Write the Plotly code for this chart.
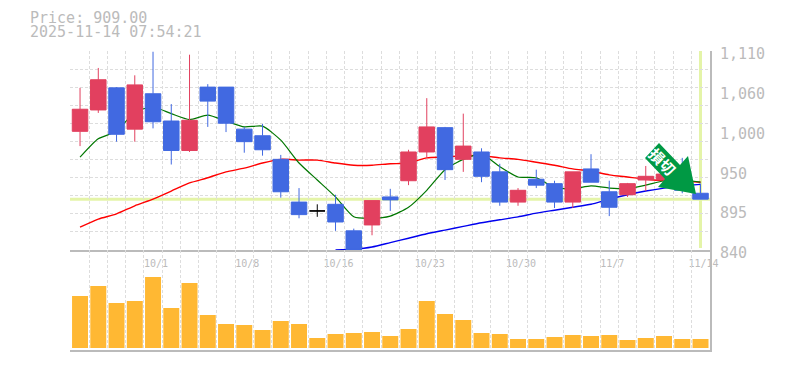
import plotly.graph_objects as go

idx = list(range(35))
opens  = [1001,1030,1060,1004,1052,1015,975,1061,1061,1004,995,963,905,893,902,866,874,912,934,973,1006,963,973,946,905,936,930,905,950,919,915,935,935,949,917]
highs  = [1060,1087,1061,1077,1109,1038,1105,1065,1061,1007,1011,969,924,902,915,869,907,923,976,1046,1007,1025,978,957,924,949,934,946,970,934,931,954,946,965,930]
lows   = [981,1026,987,987,1005,956,973,1007,1000,972,968,911,883,885,866,840,860,893,928,965,935,946,932,900,900,924,897,897,932,886,912,920,932,917,909]
closes = [1031,1071,997,1064,1014,975,1016,1042,1012,987,976,919,888,893,878,840,907,908,973,1007,949,981,940,905,921,928,905,946,932,898,930,940,943,921,909]
ma_green = [966,991,1001,1027,1034,1025,1017,1023,1015,1007,1008,989,958,935,912,885,883,886,898,921,949,963,970,953,939,938,925,923,927,924,923,928,934,935,932]
ma_red = [871,882,889,900,909,920,931,938,946,951,958,963,962,962,958,955,955,957,958,965,966,968,968,965,963,959,955,950,947,942,939,936,934,934,932]
ma_blue = [None]*14 + [840,841,844,850,856,862,867,872,877,881,885,890,894,898,902,909,915,920,924,927,929]
volumes = [156,186,135,141,213,120,195,99,72,69,54,81,72,30,42,45,48,36,57,141,102,84,45,42,27,27,33,39,36,39,24,30,36,27,27]
date_idx = [4,9,14,19,24,29,34]
date_labels = ["10/1","10/8","10/16","10/23","10/30","11/7","11/14"]
price_ticks = [1110,1056,1002,948,894,840]
price_labels = ["1,110","1,060","1,000","950","895","840"]
last_price = 909
title_lines = ["Price: 909.00","2025-11-14 07:54:21"]

W, H = 785, 370
L, R, T, B = 70, 710, 51, 350
GRAY = "#bbbbbb"
GRID = "#dddddd"
MONO = "DejaVu Sans Mono"
XRANGE = [-0.55, 34.52]
px = lambda x: (x-L)/(R-L)
py = lambda y: (B-y)/(B-T)
split = py(250)

fig = go.Figure()
fig.add_bar(x=idx, y=volumes, xaxis="x2", yaxis="y2", marker=dict(color="#FFB833", line_width=0), width=0.875)
fig.add_scatter(x=idx, y=ma_red, mode="lines", line=dict(color="#FF0000", width=1.4, shape="spline", smoothing=0.6), xaxis="x", yaxis="y")
fig.add_scatter(x=idx, y=ma_blue, mode="lines", line=dict(color="#0000EE", width=1.4, shape="spline", smoothing=0.6), xaxis="x", yaxis="y")
fig.add_scatter(x=idx, y=ma_green, mode="lines", line=dict(color="#007700", width=1.2, shape="spline", smoothing=0.6), xaxis="x", yaxis="y")

keep = [i for i in idx if opens[i] != closes[i]]
flat = [i for i in idx if opens[i] == closes[i]]
pick = lambda arr, sel: [arr[i] for i in sel]
fig.add_candlestick(x=keep, open=pick(opens,keep), high=pick(highs,keep), low=pick(lows,keep), close=pick(closes,keep),
    xaxis="x3", yaxis="y3", whiskerwidth=0,
    increasing=dict(line=dict(color="#E2405F", width=1), fillcolor="#E2405F"),
    decreasing=dict(line=dict(color="#4169E1", width=1), fillcolor="#4169E1"))
fig.add_candlestick(x=flat, open=pick(opens,flat), high=pick(highs,flat), low=pick(lows,flat), close=pick(closes,flat),
    xaxis="x3", yaxis="y3", whiskerwidth=0,
    increasing=dict(line=dict(color="#000000", width=1), fillcolor="#000000"),
    decreasing=dict(line=dict(color="#000000", width=1), fillcolor="#000000"))

xgrid = dict(range=XRANGE, tick0=-0.5, dtick=1, tickmode="linear", showticklabels=False, ticks="",
             showgrid=True, gridcolor=GRID, griddash="3px,2px", gridwidth=1, zeroline=False,
             showline=True, linecolor=GRAY, linewidth=1.5, automargin=False)
arrow = [(659,143),(645,158),(665,179),(658,187),(696,194),(688,156),(680,165)]
path = "M " + " L ".join(f"{px(a)},{py(b)}" for a,b in arrow) + " Z"
fig.update_layout(
    width=W, height=H, autosize=False, showlegend=False, dragmode=False,
    paper_bgcolor="white", plot_bgcolor="white",
    margin=dict(l=L, r=W-R, t=T, b=H-B, pad=0, autoexpand=False),
    boxmode="overlay", boxgap=0.15, boxgroupgap=0,
    xaxis=dict(domain=[0,1], anchor="y", **xgrid),
    xaxis2=dict(domain=[0,1], anchor="y2", **xgrid),
    xaxis3=dict(domain=[0,1], anchor="y3", overlaying="x", range=XRANGE, tickmode="array",
                tickvals=date_idx, ticktext=date_labels, showgrid=False, zeroline=False, ticks="",
                ticklabelstandoff=6, ticklabelshift=3, rangeslider=dict(visible=False), automargin=False,
                tickfont=dict(family=MONO, size=10, color=GRAY), tickangle=0),
    yaxis=dict(domain=[split,1], anchor="x", side="right", range=[840,1110], tick0=840, dtick=270/11,
               tickmode="linear", showticklabels=False, ticks="", showgrid=True, gridcolor=GRID,
               griddash="3px,2px", zeroline=False, showline=True, linecolor=GRAY, linewidth=1.5),
    yaxis2=dict(domain=[0,split], anchor="x2", side="right", range=[-6,294], showticklabels=False, ticks="",
                showgrid=False, zeroline=False, showline=True, linecolor=GRAY, linewidth=1.5),
    yaxis3=dict(domain=[split,1], anchor="x3", overlaying="y", side="right", range=[840,1110], tickmode="array",
                tickvals=price_ticks, ticktext=price_labels, showgrid=False, zeroline=False, ticks="", automargin=False,
                ticklabelshift=3, ticklabelstandoff=9, tickfont=dict(family=MONO, size=15, color=GRAY)),
    shapes=[
        dict(type="line", layer="below", xref="paper", yref="y", x0=0, x1=1, y0=last_price, y1=last_price,
             line=dict(color="#E4F4A8", width=3)),
        dict(type="line", layer="below", xref="x", yref="paper", x0=idx[-1], x1=idx[-1], y0=py(248), y1=1,
             line=dict(color="#E4F4A8", width=3)),
        dict(type="path", layer="above", xref="paper", yref="paper", path=path,
             fillcolor="#009944", line=dict(color="#009944", width=0)),
    ],
    annotations=[
        dict(text=title_lines[0], xref="paper", yref="paper", x=px(28), y=py(18), xanchor="left", yanchor="middle",
             showarrow=False, font=dict(family=MONO, size=15, color=GRAY)),
        dict(text=title_lines[1], xref="paper", yref="paper", x=px(28), y=py(32), xanchor="left", yanchor="middle",
             showarrow=False, font=dict(family=MONO, size=15, color=GRAY)),
        dict(text="<b>損切</b>", xref="paper", yref="paper", x=px(663), y=py(161), xanchor="center", yanchor="middle",
             textangle=45, showarrow=False, font=dict(family="Noto Sans CJK JP", size=15, color="white")),
    ],
)
fig.write_html("out.html", config=dict(displayModeBar=False, staticPlot=True),
               post_script="document.body.style.margin='0';document.body.style.overflow='hidden';")
